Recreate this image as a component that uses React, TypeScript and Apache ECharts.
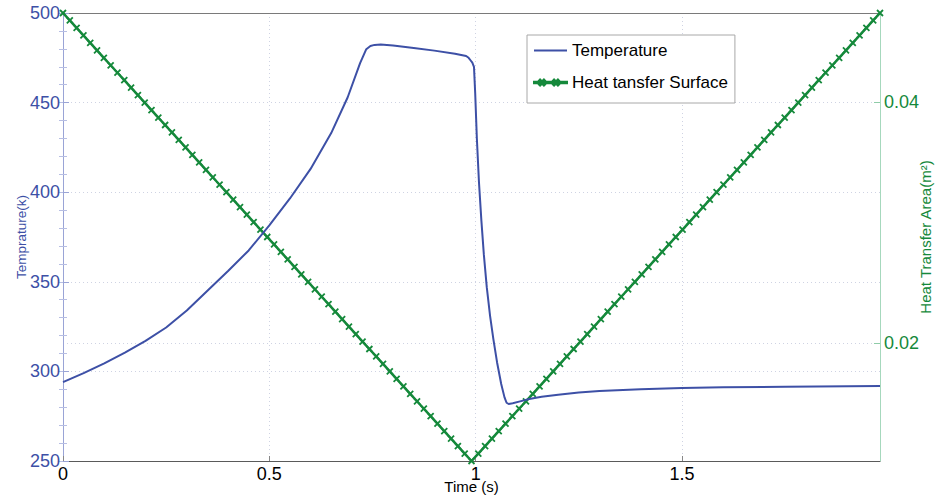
import React, { useEffect, useRef } from "react";
import * as echarts from "echarts";

// Temperature curve (time in s, temperature in K)
const tempTime = [0, 0.05, 0.1, 0.15, 0.2, 0.25, 0.3, 0.35, 0.4, 0.45, 0.5, 0.55, 0.6, 0.65, 0.69, 0.72, 0.735, 0.745, 0.755, 0.77, 0.8, 0.85, 0.9, 0.95, 0.977, 0.983, 0.988, 0.992, 0.996, 0.999, 1.003, 1.008, 1.014, 1.02, 1.027, 1.035, 1.043, 1.052, 1.062, 1.07, 1.075, 1.08, 1.09, 1.11, 1.13, 1.16, 1.2, 1.25, 1.3, 1.4, 1.5, 1.6, 1.75, 1.98];
const tempValue = [294, 299, 304.5, 310.5, 317, 324.5, 334, 345, 356, 367.5, 381.5, 396.5, 413, 433, 453, 472, 479.8, 481.6, 482.2, 482.4, 481.9, 480.5, 479, 477.3, 476, 475, 473.5, 472.3, 470, 455, 430, 406, 384, 365, 347, 331, 318, 305, 293, 285.5, 282.5, 281.8, 282.2, 283.4, 284.6, 285.8, 287, 288.2, 289.1, 290.1, 290.7, 291.1, 291.5, 291.8];

// Heat transfer surface (time in s, area in m^2), one value per marker
const areaTime = [
  0, 0.0165, 0.033, 0.0495, 0.066, 0.0825, 0.099, 0.1155, 0.132, 0.1485,
  0.165, 0.1815, 0.198, 0.2145, 0.231, 0.2475, 0.264, 0.2805, 0.297, 0.3135,
  0.33, 0.3465, 0.363, 0.3795, 0.396, 0.4125, 0.429, 0.4455, 0.462, 0.4785,
  0.495, 0.5115, 0.528, 0.5445, 0.561, 0.5775, 0.594, 0.6105, 0.627, 0.6435,
  0.66, 0.6765, 0.693, 0.7095, 0.726, 0.7425, 0.759, 0.7755, 0.792, 0.8085,
  0.825, 0.8415, 0.858, 0.8745, 0.891, 0.9075, 0.924, 0.9405, 0.957, 0.9735,
  0.99, 1.0065, 1.023, 1.0395, 1.056, 1.0725, 1.089, 1.1055, 1.122, 1.1385,
  1.155, 1.1715, 1.188, 1.2045, 1.221, 1.2375, 1.254, 1.2705, 1.287, 1.3035,
  1.32, 1.3365, 1.353, 1.3695, 1.386, 1.4025, 1.419, 1.4355, 1.452, 1.4685,
  1.485, 1.5015, 1.518, 1.5345, 1.551, 1.5675, 1.584, 1.6005, 1.617, 1.6335,
  1.65, 1.6665, 1.683, 1.6995, 1.716, 1.7325, 1.749, 1.7655, 1.782, 1.7985,
  1.815, 1.8315, 1.848, 1.8645, 1.881, 1.8975, 1.914, 1.9305, 1.947, 1.9635,
  1.98,
];
const areaValue = [
  0.0474, 0.04678, 0.04616, 0.04554, 0.04492, 0.0443, 0.04368, 0.04306, 0.04244, 0.04182,
  0.0412, 0.04058, 0.03996, 0.03934, 0.03872, 0.0381, 0.03748, 0.03686, 0.03624, 0.03562,
  0.035, 0.03438, 0.03376, 0.03314, 0.03252, 0.0319, 0.03128, 0.03066, 0.03004, 0.02942,
  0.0288, 0.02818, 0.02756, 0.02694, 0.02632, 0.0257, 0.02508, 0.02446, 0.02384, 0.02322,
  0.0226, 0.02198, 0.02136, 0.02074, 0.02012, 0.0195, 0.01888, 0.01826, 0.01764, 0.01702,
  0.0164, 0.01578, 0.01516, 0.01454, 0.01392, 0.0133, 0.01268, 0.01206, 0.01144, 0.01082,
  0.0102, 0.01082, 0.01144, 0.01206, 0.01268, 0.0133, 0.01392, 0.01454, 0.01516, 0.01578,
  0.0164, 0.01702, 0.01764, 0.01826, 0.01888, 0.0195, 0.02012, 0.02074, 0.02136, 0.02198,
  0.0226, 0.02322, 0.02384, 0.02446, 0.02508, 0.0257, 0.02632, 0.02694, 0.02756, 0.02818,
  0.0288, 0.02942, 0.03004, 0.03066, 0.03128, 0.0319, 0.03252, 0.03314, 0.03376, 0.03438,
  0.035, 0.03562, 0.03624, 0.03686, 0.03748, 0.0381, 0.03872, 0.03934, 0.03996, 0.04058,
  0.0412, 0.04182, 0.04244, 0.04306, 0.04368, 0.0443, 0.04492, 0.04554, 0.04616, 0.04678,
  0.0474,
];

const seriesNames = ["Temperature", "Heat tansfer Surface"];
const xTickLabels = ["0", "0.5", "1", "1.5"];
const rightTickLabels = ["0.02", "0.04"];

const FONT = "'Liberation Sans', Arial, Helvetica, sans-serif";
const BLUE = "#3d50a6";
const GREEN = "#15893b";
const GRID_LINE = { show: true, lineStyle: { type: [1, 3] as any, color: "#cfd3e3", width: 1 } };

const LINE_ICON = "path://M0,0H33V1.8H0Z";
const LINE_X_ICON =
  "path://M0,4.3H33V5.7H0Z" +
  "M6.07,2.03L11.07,7.03L9.93,8.17L4.93,3.17Z" +
  "M11.07,3.17L6.07,8.17L4.93,7.03L9.93,2.03Z" +
  "M20.07,2.03L25.07,7.03L23.93,8.17L18.93,3.17Z" +
  "M25.07,3.17L20.07,8.17L18.93,7.03L23.93,2.03Z" +
  "M0,0.5M33,9.5";

export default function App() {
  const ref = useRef<HTMLDivElement>(null);
  useEffect(() => {
    document.body.style.margin = "0";
    const chart = echarts.init(ref.current!, null, { renderer: "svg" });
    const tempData = tempTime.map((t, i) => [t, tempValue[i]]);
    const areaData = areaTime.map((t, i) => [t, areaValue[i]]);
    chart.setOption({
      animation: false,
      backgroundColor: "#fff",
      textStyle: { fontFamily: FONT },
      grid: { left: 63, right: 57, top: 13, bottom: 37, containLabel: false, outerBoundsMode: "none" },
      legend: {
        left: 527,
        top: 35,
        orient: "vertical",
        backgroundColor: "#fff",
        borderColor: "#a8a8a8",
        borderWidth: 1,
        borderRadius: 0,
        padding: [7, 7, 12, 6],
        itemGap: 15,
        itemWidth: 33,
        itemHeight: 10,
        symbolKeepAspect: true,
        textStyle: { fontSize: 17, color: "#000", fontFamily: FONT },
        data: [
          { name: seriesNames[0], icon: LINE_ICON },
          { name: seriesNames[1], icon: LINE_X_ICON },
        ],
      },
      xAxis: [
        {
          type: "value",
          min: 0,
          max: 1.98,
          interval: 0.5,
          axisLine: { show: true, onZero: false, lineStyle: { color: "#5a5a5a", width: 1 } },
          axisTick: { show: true, inside: true, length: 5, lineStyle: { color: "#888" } },
          axisLabel: {
            color: "#000",
            fontSize: 18,
            fontFamily: FONT,
            margin: 4,
            showMaxLabel: false,
            formatter: (v: number) => {
              const i = Math.round(v / 0.5);
              return Math.abs(v - i * 0.5) < 1e-9 && i < xTickLabels.length ? xTickLabels[i] : "";
            },
          },
          splitLine: GRID_LINE,
          name: "Time (s)",
          nameLocation: "middle",
          nameGap: 18,
          nameMoveOverlap: false,
          nameTextStyle: { color: "#000", fontSize: 15, fontFamily: FONT },
        },
        {
          type: "value",
          position: "top",
          min: 0,
          max: 1.98,
          interval: 0.5,
          axisLine: { show: true, onZero: false, lineStyle: { color: "#7a7a7a", width: 1 } },
          axisTick: { show: false },
          axisLabel: { show: false },
          splitLine: { show: false },
        },
      ],
      yAxis: [
        {
          type: "value",
          min: 250,
          max: 500,
          interval: 50,
          position: "left",
          axisLine: { show: true, onZero: false, lineStyle: { color: "#9aa4d6", width: 1 } },
          axisTick: { show: true, inside: true, length: 6, lineStyle: { color: "#9aa4d6" } },
          minorTick: { show: true, splitNumber: 5, length: 4, lineStyle: { color: "#b7bee3" } },
          axisLabel: { color: BLUE, fontSize: 18, fontFamily: FONT, margin: 3 },
          splitLine: GRID_LINE,
          name: "Temprature(k)",
          nameLocation: "middle",
          nameGap: 35,
          nameMoveOverlap: false,
          nameRotate: 90,
          nameTextStyle: { color: BLUE, fontSize: 13.5, fontFamily: FONT },
        },
        {
          type: "value",
          min: 0.0102,
          max: 0.0474,
          splitNumber: 2,
          position: "right",
          axisLine: { show: true, onZero: false, lineStyle: { color: "#a6d8bd", width: 1 } },
          axisTick: { show: true, inside: true, length: 6, lineStyle: { color: "#8fcca8" } },
          axisLabel: {
            color: GREEN,
            fontSize: 18,
            fontFamily: FONT,
            margin: 4,
            showMinLabel: false,
            showMaxLabel: false,
            formatter: (v: number) => {
              if (Math.abs(v - 0.02) < 1e-9) return rightTickLabels[0];
              if (Math.abs(v - 0.04) < 1e-9) return rightTickLabels[1];
              return "";
            },
          },
          splitLine: GRID_LINE,
          name: "Heat Transfer Area(m²)",
          nameLocation: "middle",
          nameGap: 38,
          nameMoveOverlap: false,
          nameRotate: 90,
          nameTextStyle: { color: GREEN, fontSize: 15, fontFamily: FONT },
        },
        {
          type: "value",
          min: 250,
          max: 500,
          interval: 50,
          position: "right",
          axisLine: { show: false },
          axisTick: { show: true, inside: true, length: 5, lineStyle: { color: "#b7bee3" } },
          minorTick: { show: true, splitNumber: 5, length: 4, lineStyle: { color: "#b7bee3" } },
          axisLabel: { show: false },
          splitLine: { show: false },
        },
      ],
      series: [
        {
          name: seriesNames[0],
          type: "line",
          xAxisIndex: 0,
          yAxisIndex: 0,
          data: tempData,
          symbol: "none",
          showSymbol: false,
          lineStyle: { color: BLUE, width: 2 },
          itemStyle: { color: BLUE },
          z: 3,
        },
        {
          name: seriesNames[1],
          type: "line",
          xAxisIndex: 0,
          yAxisIndex: 1,
          data: areaData,
          symbol: "path://M0,0L10,10M10,0L0,10",
          symbolSize: 6,
          showSymbol: true,
          showAllSymbol: true,
          lineStyle: { color: GREEN, width: 2.5 },
          itemStyle: { color: GREEN, borderColor: GREEN, borderWidth: 1.8 },
          z: 2,
        },
      ],
    });
    return () => chart.dispose();
  }, []);
  return <div ref={ref} style={{ width: 937, height: 498 }} />;
}
